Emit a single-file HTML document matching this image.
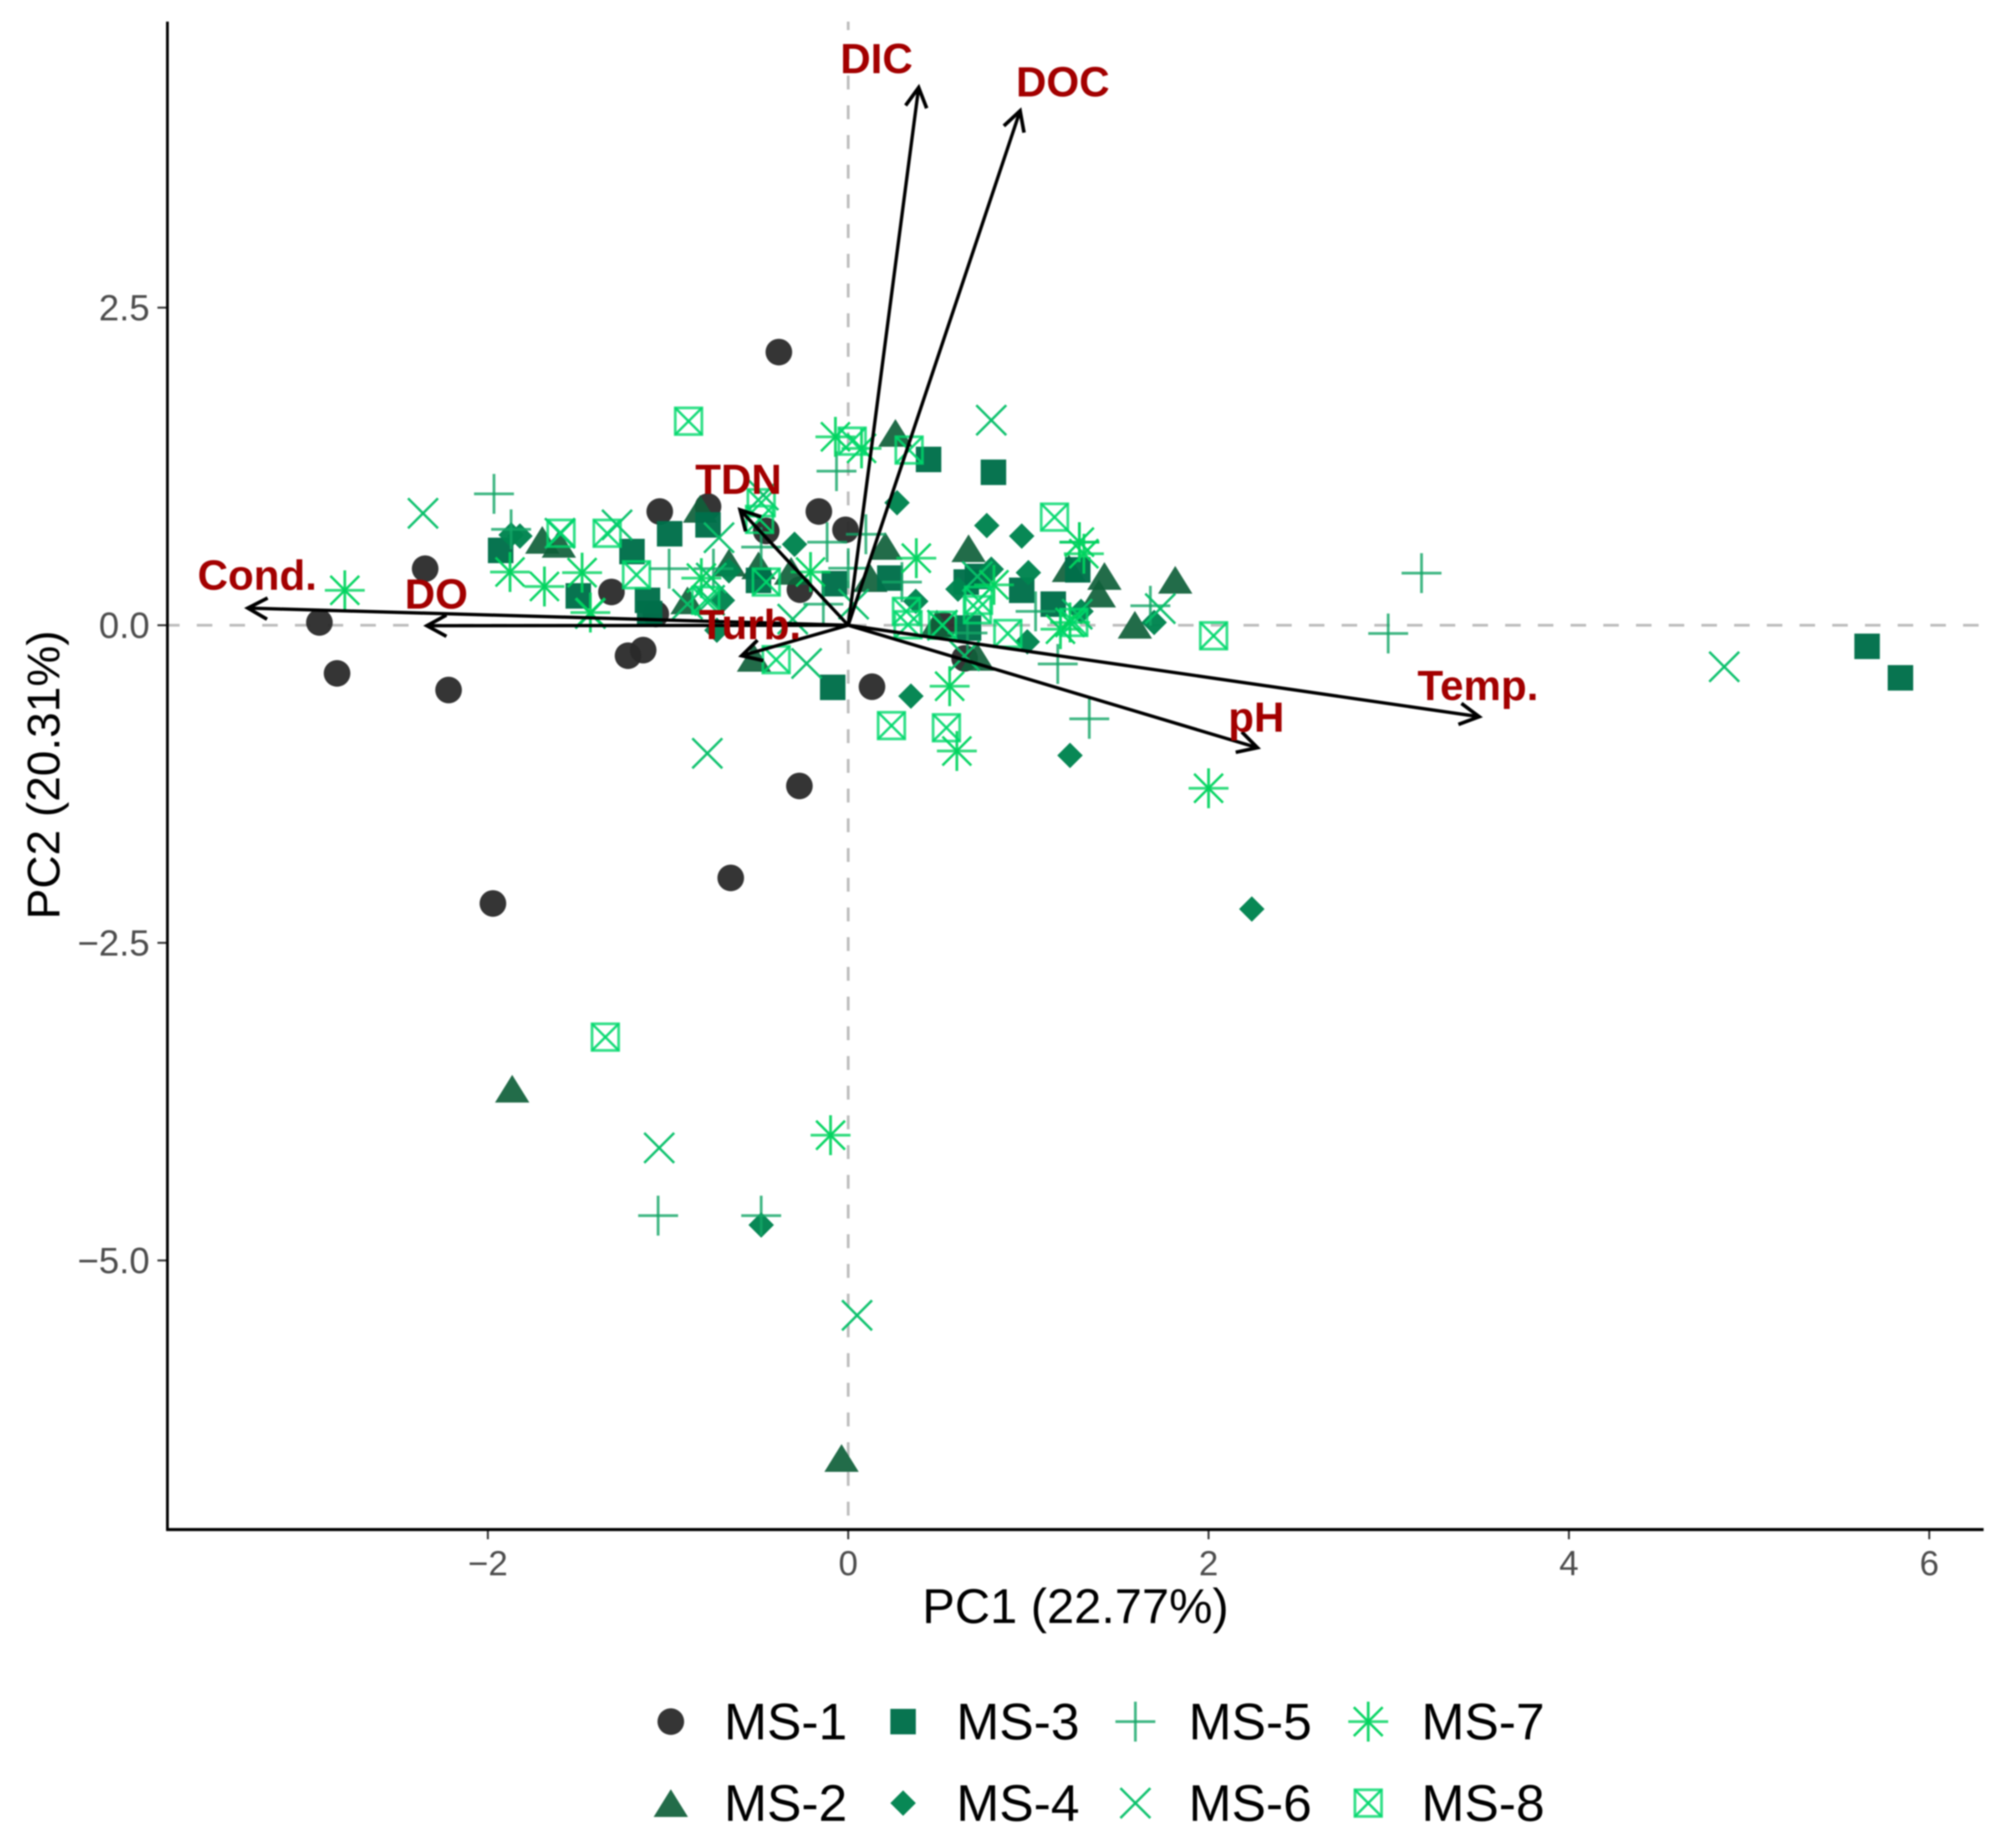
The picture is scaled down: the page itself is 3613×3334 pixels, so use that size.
<!DOCTYPE html>
<html lang="en">
<head>
<meta charset="utf-8">
<title>PCA biplot</title>
<style>
html,body{margin:0;padding:0;background:#fff;}
#chart{display:block;width:3613px;height:3334px;filter:blur(1.4px);font-family:"Liberation Sans",sans-serif;}
</style>
</head>
<body>
<svg id="chart" xmlns="http://www.w3.org/2000/svg" width="3613" height="3334" viewBox="0 0 3613 3334">
  <rect x="0" y="0" width="3613" height="3334" fill="#ffffff"/>
  <line x1="302" y1="1128" x2="3578" y2="1128" stroke="#bdbdbd" stroke-width="5" stroke-dasharray="28 31" stroke-dashoffset="6"/>
  <line x1="1530" y1="39" x2="1530" y2="2759" stroke="#bdbdbd" stroke-width="5" stroke-dasharray="25 28.6" stroke-dashoffset="9.8"/>
  <g id="points"></g>
  <g id="arrows"></g>
  <g id="ticks"></g>
  <line x1="302" y1="39" x2="302" y2="2762" stroke="#000" stroke-width="5"/>
  <line x1="300" y1="2759.5" x2="3578" y2="2759.5" stroke="#000" stroke-width="5.5"/>
  <text x="1940" y="2928" font-size="88" text-anchor="middle" fill="#000">PC1 (22.77%)</text>
  <text transform="translate(107,1398) rotate(-90)" font-size="83" text-anchor="middle" fill="#000">PC2 (20.31%)</text>
  <g id="legend"></g>
</svg>
<script>
// ----- data -----
const xTicks = [-2, 0, 2, 4, 6];
const xTickLabels = ['\u22122', '0', '2', '4', '6'];
const yTicks = [-5, -2.5, 0, 2.5];
const yTickLabels = ['\u22125.0', '\u22122.5', '0.0', '2.5'];

const ms1X = [-0.385,-2.348,-2.935,-2.837,-2.218,-1.972,-0.652,-0.271,0.132,-1.222,-1.138,-1.314,-1.046,-0.778,-0.455,-0.163,-0.015,-0.268,-1.068,0.646,0.532];
const ms1Y = [2.15,0.445,0.022,-0.379,-0.51,-2.19,-1.989,-1.265,-0.484,-0.24,-0.196,0.262,0.895,0.934,0.742,0.895,0.751,0.28,0.088,-0.261,0];

const ms2X = [-1.698,-1.606,-0.892,-0.822,-0.662,-0.498,-0.317,-0.523,0.262,0.206,0.123,0.668,1.225,1.422,1.391,1.815,1.591,0.717,0.492,-1.865,-0.037];
const ms2Y = [0.672,0.641,0.196,0.916,0.493,0.471,0.428,-0.257,1.514,0.624,0.371,0.606,0.449,0.388,0.249,0.358,0.004,-0.249,0.013,-3.648,-6.555];

const ms3X = [-1.929,-0.991,-1.2,-1.498,-1.114,-1.102,-0.778,-0.498,-0.077,0.231,-0.086,0.806,0.446,0.655,0.717,0.963,1.138,1.274,5.655,5.84,0.668];
const ms3Y = [0.589,0.72,0.58,0.231,0.196,0.092,0.79,0.353,0.327,0.371,-0.489,1.204,1.305,0.34,0.384,0.275,0.166,0.436,-0.166,-0.414,-0.022];

const ms4X = [-1.871,-1.822,-0.298,-0.662,-0.698,-0.729,0.271,0.769,0.963,0.794,1.0,0.375,0.609,0.994,1.698,1.292,1.231,0.348,2.24,-0.483];
const ms4Y = [0.711,0.702,0.637,0.428,0.196,-0.039,0.964,0.785,0.702,0.441,0.414,0.188,0.284,-0.131,0.022,0.109,-1.025,-0.558,-2.234,-4.721];

const ms5X = [-1.966,-1.871,-0.994,-0.748,-0.483,-0.117,-0.065,0,0.098,-0.138,0.298,1.04,1.163,1.677,1.283,3.182,2.997,1.338,-1.055,-0.483,0.662];
const ms5Y = [1.034,0.755,0.445,0.445,0.615,0.654,1.213,0.449,0.716,0.166,0.34,0.109,-0.305,0.153,0.654,0.41,-0.065,-0.737,-4.647,-4.647,-0.061];

const ms6X = [-2.36,0.794,-0.782,4.862,-1.049,0.049,-1.283,-1.6,-1.431,-0.717,-0.471,-0.231,-0.308,-0.76,-0.892,-0.769,0.523,0.717,0.646,1.732,1.271,0.03];
const ms6Y = [0.881,1.614,-1.008,-0.327,-4.114,-5.432,0.79,0.724,0.092,0.689,1.025,-0.301,0.048,0.371,0.166,0.196,0,0.384,-0.24,0.131,0.087,0.166];

const ms7X = [-2.794,-1.877,-1.686,-1.477,-1.431,-0.815,-0.209,0.378,0.809,0.563,1.283,1.308,1.178,1.231,-0.071,0.074,0.603,2.0,-0.098];
const ms7Y = [0.275,0.419,0.305,0.414,0.1,0.371,0.419,0.528,0.318,-0.48,0.654,0.563,-0.031,0.022,1.483,1.392,-0.99,-1.283,-4.014];

const ms8X = [-1.594,-1.338,-1.175,-0.455,-0.483,-0.492,-0.791,-0.4,-0.886,-1.348,2.028,0.24,0.545,0.022,0.338,1.145,0.323,0.332,0.523,0.717,0.723,0.886,1.252];
const ms8Y = [0.724,0.724,0.397,0.34,0.964,0.833,0.196,-0.271,1.606,-3.242,-0.083,-0.79,-0.807,1.449,1.379,0.851,0.109,0.004,0,0.122,0.196,-0.065,0.022];

const loadingNames = ['DIC','DOC','Temp.','pH','Cond.','DO','TDN','Turb.'];
const loadingX = [0.391,0.954,3.502,2.271,-3.332,-2.338,-0.6,-0.591];
const loadingY = [4.232,4.049,-0.72,-0.964,0.135,-0.004,0.908,-0.24];
const loadingLabelX = [0.157,1.191,3.495,2.265,-3.28,-2.286,-0.609,-0.545];
const loadingLabelY = [4.346,4.162,-0.589,-0.838,0.279,0.131,1.034,-0.109];

// ----- axis functions -----
function sx(v){ return 1530 + 325 * v; }
function sy(v){ return 1128 - 229.2 * v; }

const NS = 'http://www.w3.org/2000/svg';
function make(tag, parent){
  const el = document.createElementNS(NS, tag);
  parent.appendChild(el);
  return el;
}
function attrs(el, o){ for (const k in o) el.setAttribute(k, o[k]); return el; }

// ----- marker shapes -----
function addLine(g, x1, y1, x2, y2, color, w, op){
  const l = make('line', g);
  
  
  attrs(l, {x1:x1, y1:y1, x2:x2, y2:y2, stroke:color, 'stroke-width':w, opacity:op});
}
const drawers = {
  circle(g, cx, cy){
    attrs(make('circle', g), {cx:cx, cy:cy, r:24, fill:'#2a2a2a', opacity:0.95});
  },
  triangle(g, cx, cy){
    attrs(make('polygon', g), {points:(cx-31)+','+(cy+25)+' '+(cx+31)+','+(cy+25)+' '+cx+','+(cy-25), fill:'#0f5f3a', opacity:0.92});
  },
  square(g, cx, cy){
    attrs(make('rect', g), {x:cx-23, y:cy-23, width:46, height:46, fill:'#00704a', opacity:0.97});
  },
  diamond(g, cx, cy){
    attrs(make('polygon', g), {points:cx+','+(cy-23)+' '+(cx+23)+','+cy+' '+cx+','+(cy+23)+' '+(cx-23)+','+cy, fill:'#008450', opacity:0.97});
  },
  plus(g, cx, cy){
    addLine(g, cx-36, cy, cx+36, cy, '#12a666', 5, 0.8);
    addLine(g, cx, cy-36, cx, cy+36, '#12a666', 5, 0.8);
  },
  cross(g, cx, cy){
    addLine(g, cx-27, cy-27, cx+27, cy+27, '#08c06a', 4.5, 0.95);
    addLine(g, cx-27, cy+27, cx+27, cy-27, '#08c06a', 4.5, 0.95);
  },
  star(g, cx, cy){
    addLine(g, cx-36, cy, cx+36, cy, '#00d45e', 5, 0.8);
    addLine(g, cx, cy-36, cx, cy+36, '#00d45e', 5, 0.9);
    addLine(g, cx-26, cy-26, cx+26, cy+26, '#00d45e', 4.5, 0.95);
    addLine(g, cx-26, cy+26, cx+26, cy-26, '#00d45e', 4.5, 0.95);
  },
  box(g, cx, cy){
    attrs(make('rect', g), {x:cx-24, y:cy-24, width:48, height:48, fill:'none', stroke:'#00d86c', 'stroke-width':5, opacity:0.8});
    addLine(g, cx-24, cy-24, cx+24, cy+24, '#00d86c', 4.5, 0.9);
    addLine(g, cx-24, cy+24, cx+24, cy-24, '#00d86c', 4.5, 0.9);
  }
};

const seriesNames = ['MS-1','MS-2','MS-3','MS-4','MS-5','MS-6','MS-7','MS-8'];
const seriesShapes = ['circle','triangle','square','diamond','plus','cross','star','box'];
const seriesX = [ms1X, ms2X, ms3X, ms4X, ms5X, ms6X, ms7X, ms8X];
const seriesY = [ms1Y, ms2Y, ms3Y, ms4Y, ms5Y, ms6Y, ms7Y, ms8Y];

// ----- points -----
const pointsG = document.getElementById('points');
seriesNames.forEach(function(name, s){
  const group = make('g', pointsG);
  
  
  seriesX[s].forEach(function(xv, i){
    const g = make('g', group);
    
    
    drawers[seriesShapes[s]](g, sx(xv), sy(seriesY[s][i]));
  });
});

// ----- loading arrows -----
const arrowsG = document.getElementById('arrows');
loadingNames.forEach(function(name, i){
  const key = name.replace('.', '').toLowerCase();
  const g = make('g', arrowsG);
  
  
  const x0 = sx(0), y0 = sy(0), x1 = sx(loadingX[i]), y1 = sy(loadingY[i]);
  const ang = Math.atan2(y1 - y0, x1 - x0);
  const len = 40, spread = 0.5;
  const shaft = make('line', g);
  
  
  attrs(shaft, {x1:x0, y1:y0, x2:x1, y2:y1, stroke:'#000', 'stroke-width':6});
  const head = make('polyline', g);
  
  
  attrs(head, {
    points:(x1 - len*Math.cos(ang-spread))+','+(y1 - len*Math.sin(ang-spread))+' '+x1+','+y1+' '+(x1 - len*Math.cos(ang+spread))+','+(y1 - len*Math.sin(ang+spread)),
    fill:'none', stroke:'#000', 'stroke-width':6.5, 'stroke-linejoin':'miter'
  });
});
loadingNames.forEach(function(name, i){
  const key = name.replace('.', '').toLowerCase();
  const t = make('text', arrowsG);
  
  
  attrs(t, {x:sx(loadingLabelX[i]), y:sy(loadingLabelY[i]), 'font-size':76, 'font-weight':'bold', 'text-anchor':'middle', fill:'#a30000'});
  t.textContent = name;
});

// ----- ticks -----
const ticksG = document.getElementById('ticks');
xTicks.forEach(function(v, i){
  const l = make('line', ticksG);
  
  
  attrs(l, {x1:sx(v), y1:2759, x2:sx(v), y2:2777, stroke:'#333', 'stroke-width':3.5});
  const t = make('text', ticksG);
  
  
  attrs(t, {x:sx(v), y:2842, 'font-size':63, 'text-anchor':'middle', fill:'#4d4d4d'});
  t.textContent = xTickLabels[i];
});
yTicks.forEach(function(v, i){
  const l = make('line', ticksG);
  
  
  attrs(l, {x1:284, y1:sy(v), x2:302, y2:sy(v), stroke:'#333', 'stroke-width':3.5});
  const t = make('text', ticksG);
  
  
  attrs(t, {x:270, y:sy(v) + 23, 'font-size':66, 'text-anchor':'end', fill:'#4d4d4d'});
  t.textContent = yTickLabels[i];
});

// ----- legend -----
const legendG = document.getElementById('legend');
const legendColumnX = [1210, 1629, 2048, 2468];
const legendRowY = [3106, 3253];
seriesNames.forEach(function(name, s){
  const col = Math.floor(s / 2), row = s % 2;
  const g = make('g', legendG);
  
  
  drawers[seriesShapes[s]](g, legendColumnX[col], legendRowY[row]);
  const t = make('text', g);
  
  
  attrs(t, {x:legendColumnX[col] + 96, y:legendRowY[row] + 32, 'font-size':93, fill:'#000'});
  t.textContent = name;
});
</script>
</body>
</html>
